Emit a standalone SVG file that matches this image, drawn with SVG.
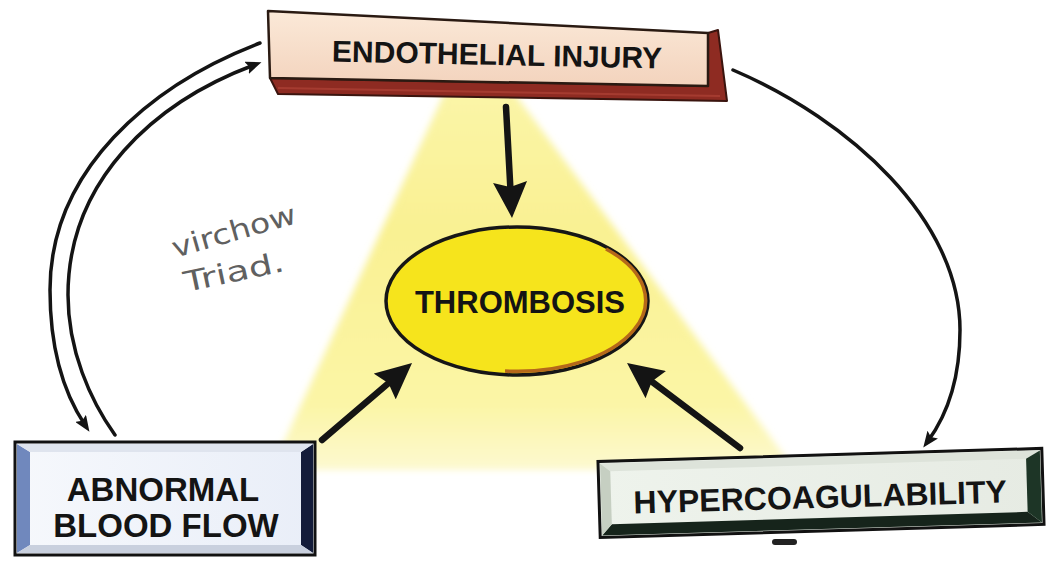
<svg xmlns="http://www.w3.org/2000/svg" width="1048" height="562" viewBox="0 0 1048 562">
<style>
.lbl{font-family:"Liberation Sans",Arial,sans-serif;font-weight:bold;fill:#141414;text-anchor:middle}
.hand{font-family:"DejaVu Sans","Liberation Sans",sans-serif;fill:#606060}
.arc{fill:none;stroke:#141414;stroke-width:3.5;stroke-linecap:round}
.thick{fill:none;stroke:#141414;stroke-width:6.5;stroke-linecap:round}
</style>
<defs>
<marker id="bigHead" markerUnits="userSpaceOnUse" markerWidth="36" markerHeight="34" refX="12" refY="17" orient="auto">
<path d="M0,0 L36,17 L0,34 L5,17 z" fill="#141414"/>
</marker>
<marker id="smallHead" markerUnits="userSpaceOnUse" markerWidth="16" markerHeight="13" refX="8" refY="6.5" orient="auto">
<path d="M0,0 L16,6.5 L0,13 L3,6.5 z" fill="#141414"/>
</marker>
<linearGradient id="glow" x1="0" y1="35" x2="0" y2="470" gradientUnits="userSpaceOnUse">
<stop offset="0" stop-color="#fbf6b0"/>
<stop offset="0.45" stop-color="#f9f192"/>
<stop offset="0.85" stop-color="#fbf5a6"/>
<stop offset="1" stop-color="#fdf9d0"/>
</linearGradient>
<linearGradient id="peach" x1="0" y1="0" x2="0" y2="1">
<stop offset="0" stop-color="#fbe9d8"/>
<stop offset="1" stop-color="#f3d3bd"/>
</linearGradient>
<linearGradient id="blueFace" x1="0" y1="0" x2="1" y2="0">
<stop offset="0" stop-color="#f6f8fc"/>
<stop offset="1" stop-color="#e9eef8"/>
</linearGradient>
<linearGradient id="greenFace" x1="0" y1="0" x2="1" y2="0">
<stop offset="0" stop-color="#eef3ec"/>
<stop offset="1" stop-color="#e6ebe3"/>
</linearGradient>
<filter id="soft" x="-20%" y="-20%" width="140%" height="140%">
<feGaussianBlur stdDeviation="3.5"/>
</filter>
</defs>
<rect width="1048" height="562" fill="#ffffff"/>

<polygon points="471,35 271,470 795,470" fill="url(#glow)" filter="url(#soft)"/>

<g id="node-endothelial">
<polygon points="270,78 708,86 708,33 718,30 727,101 278,94" fill="#8e2b22" stroke="#3a140e" stroke-width="2" stroke-linejoin="round"/>
<polygon points="268,11 708,33 708,86 270,78" fill="url(#peach)" stroke="#2a1a12" stroke-width="2.5" stroke-linejoin="round"/>
<line x1="278" y1="88" x2="720" y2="96" stroke="#b5473a" stroke-width="2" opacity="0.6"/>
<text class="lbl" x="497" y="65" font-size="30" transform="rotate(1.2 497 55)">ENDOTHELIAL INJURY</text>
</g>

<g id="node-thrombosis">
<ellipse cx="517" cy="301" rx="131" ry="74" fill="#f6e41c" stroke="#161616" stroke-width="3.5"/>
<path d="M606,249 A128,71 0 0 1 505,371" fill="none" stroke="#b5681a" stroke-width="3.5"/>
<text class="lbl" x="520" y="313" font-size="31">THROMBOSIS</text>
</g>

<g id="node-abnormal">
<rect x="15" y="442" width="300" height="113" fill="url(#blueFace)" stroke="#111111" stroke-width="3"/>
<polygon points="17,444 30,452 30,545 17,553" fill="#7088bd"/>
<polygon points="313,444 301,452 301,545 313,553" fill="#141c3a"/>
<polygon points="17,444 313,444 301,452 30,452" fill="#dfe4ee"/>
<polygon points="17,553 313,553 301,545 30,545" fill="#c9d0de"/>
<text class="lbl" x="163" y="501" font-size="33">ABNORMAL</text>
<text class="lbl" x="166" y="537" font-size="33">BLOOD FLOW</text>
</g>

<g id="node-hyper" transform="rotate(-1.7 820 493)">
<rect x="599" y="455" width="444" height="76" fill="url(#greenFace)" stroke="#111111" stroke-width="3"/>
<polygon points="601,457 1041,457 1027,465 611,465" fill="#dde3da"/>
<polygon points="601,529 1041,529 1027,518 611,518" fill="#16241b"/>
<polygon points="1041,457 1027,465 1027,518 1041,529" fill="#1d3526"/>
<polygon points="601,457 611,465 611,518 601,529" fill="#c6cfc2"/>
<text class="lbl" x="820" y="508" font-size="32">HYPERCOAGULABILITY</text>
</g>

<rect x="772" y="539" width="25" height="6" rx="3" fill="#222222"/>

<g id="label-virchow">
<text class="hand" x="175" y="258" font-size="28" textLength="128" lengthAdjust="spacingAndGlyphs" transform="rotate(-16 175 258)">virchow</text>
<text class="hand" x="186" y="292" font-size="28" textLength="102" lengthAdjust="spacingAndGlyphs" transform="rotate(-12 186 292)">Triad.</text>
</g>

<g id="connectors">
<path class="thick" d="M506,107 L510.7,194" marker-end="url(#bigHead)"/>
<path class="thick" d="M322,440 L393.8,378.6" marker-end="url(#bigHead)"/>
<path class="thick" d="M740,448 L646.2,377.4" marker-end="url(#bigHead)"/>
<path class="arc" d="M260,43 C150,85 50,170 50,290 C50,350 65,395 85,425" marker-end="url(#smallHead)"/>
<path class="arc" d="M115,435 C90,400 68,350 68,295 C68,180 155,102 254,65" marker-end="url(#smallHead)"/>
<path class="arc" d="M733,70 C850,120 960,220 960,330 C960,380 947,415 928,441" marker-end="url(#smallHead)"/>
</g>
</svg>
